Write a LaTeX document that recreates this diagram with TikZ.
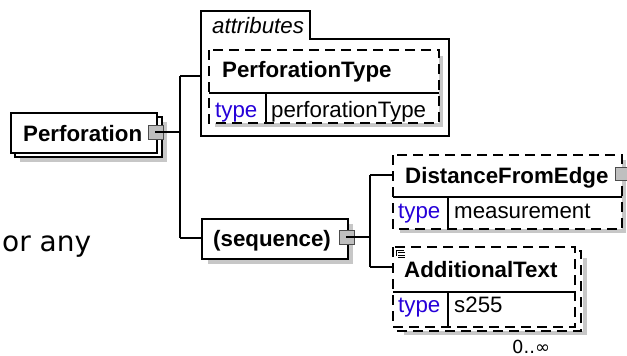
\documentclass[tikz,border=0pt]{standalone}
\usepackage{fontspec}
\setmainfont{Liberation Sans}
\newfontfamily\verd{DejaVu Sans}
\begin{document}
\begin{tikzpicture}[x=1pt,y=-1pt,
  box/.style={draw=black,fill=white,line width=1.1pt},
  dbox/.style={draw=black,fill=white,line width=1.1pt,dash pattern=on 10pt off 6pt},
  shade/.style={fill=black!22,draw=none},
  conn/.style={draw=black,line width=1.1pt},
  sq/.style={draw=black!70,fill=black!25,line width=0.8pt},
  lbl/.style={anchor=base west,inner sep=0pt,font=\fontsize{22.3}{25}\selectfont\bfseries},
  typ/.style={anchor=base west,inner sep=0pt,font=\fontsize{22.3}{25}\selectfont,text=blue!85!red},
  val/.style={anchor=base west,inner sep=0pt,font=\fontsize{22.3}{25}\selectfont}
]
\useasboundingbox (0,0) rectangle (627,356);

% ---- text at left
\node[anchor=base west,inner sep=0pt,font=\verd\fontsize{28}{32}\selectfont] (orany) at (2,251) {or any};

% ---- Perforation (stacked)
\fill[shade] (20,122) rectangle (167,162);
\draw[box] (15,117) rectangle (162,157);
\draw[box] (11,113) rectangle (157,153);
\node[lbl] (perf) at (23,141.5) {Perforation};
\draw[sq] (148,125) rectangle (163,139);
\coordinate (perfc) at (155,132);
\coordinate (trunkA) at (180,76);
\coordinate (trunkB) at (180,238);
\draw[conn] (perfc) -- (180,132);
\draw[conn] (trunkA) -- (trunkB);

% ---- attributes group
\draw[box] (201,136) -- (201,11) -- (310,11) -- (310,39) -- (449,39) -- (449,136) -- cycle;
\node[anchor=base west,inner sep=0pt,font=\fontsize{22.3}{25}\selectfont\itshape] (attr) at (212,33) {attributes};
\coordinate (attrin) at (201,76);
\draw[conn] (trunkA) -- (attrin);

% PerforationType
\fill[shade] (443,56) rectangle (439,127);
\fill[shade] (215,123) rectangle (443,127);
\fill[white] (209,50) rectangle (439,123);
\draw[dbox,fill=none] (209,50) rectangle (439,123);
\draw[conn] (209,93) -- (439,93);
\draw[conn] (266,93) -- (266,123);
\node[lbl] (pt) at (222,77) {PerforationType};
\node[typ] (pttype) at (215,117) {type};
\node[val] (ptval) at (271,117) {perforationType};

% ---- sequence
\fill[shade] (208,224) rectangle (353,264);
\draw[box] (202,219) rectangle (348,259);
\node[lbl] (seq) at (213,246) {(sequence)};
\coordinate (seqin) at (202,238);
\draw[conn] (trunkB) -- (seqin);
\draw[sq] (339,230) rectangle (354,244);
\coordinate (seqc) at (346,237);
\coordinate (trunk2A) at (370,175);
\coordinate (trunk2B) at (370,267);
\draw[conn] (seqc) -- (370,237);
\draw[conn] (trunk2A) -- (trunk2B);

% ---- DistanceFromEdge
\fill[shade] (622,160) rectangle (626,233);
\fill[shade] (400,229) rectangle (626,233);
\fill[white] (393,155) rectangle (622,229);
\draw[dbox,fill=none] (393,155) rectangle (622,229);
\draw[conn] (393,197) -- (622,197);
\draw[conn] (448,197) -- (448,229);
\draw[sq] (615,167) rectangle (630,180);
\node[lbl] (dfe) at (405,183) {DistanceFromEdge};
\node[typ] (dfetype) at (398,218) {type};
\node[val] (dfeval) at (454,218) {measurement};
\coordinate (dfein) at (393,175);
\draw[conn] (trunk2A) -- (dfein);

% ---- AdditionalText (stacked)
\fill[shade] (583,258) rectangle (587,335);
\fill[shade] (404,331) rectangle (587,335);
\fill[white] (397,251) rectangle (581,331);
\draw[dbox,fill=none] (397,251) rectangle (581,331);
\fill[white] (393,247) rectangle (575,327);
\draw[dbox,fill=none] (393,247) rectangle (575,327);
\draw[conn] (393,292) -- (575,292);
\draw[conn] (448,292) -- (448,327);
\draw[line width=0.7pt] (396,250) -- (404,250) (396,250) -- (396,256) (398,252.5) -- (405,252.5) (398,255) -- (405,255) (398,257.5) -- (405,257.5);
\node[lbl] (at) at (404,277) {AdditionalText};
\node[typ] (attype) at (398,312) {type};
\node[val] (atval) at (454,312) {s255};
\coordinate (atin) at (393,267);
\draw[conn] (trunk2B) -- (atin);
\node[anchor=base west,inner sep=0pt,font=\verd\fontsize{18}{21}\selectfont] (occ) at (512,353) {0..∞};
\end{tikzpicture}
\end{document}
